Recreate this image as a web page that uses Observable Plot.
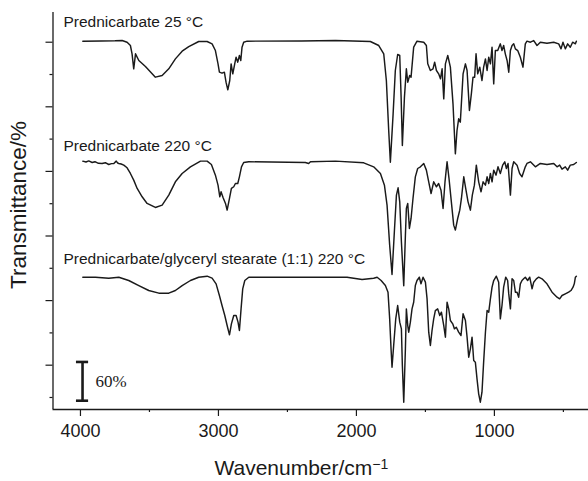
<!DOCTYPE html>
<html>
<head>
<meta charset="utf-8">
<script src="https://cdn.jsdelivr.net/npm/d3@7"></script>
<script src="https://cdn.jsdelivr.net/npm/@observablehq/plot@0.6"></script>
<style>
  html, body { margin: 0; padding: 0; background: #fff; }
  #chart { width: 588px; height: 481px; }
</style>
</head>
<body>
<div id="chart"></div>
<script>
// Wavenumber (cm^-1) and stacked transmittance (%)
const spec25 = [
  [3983,551.6],[3850,552.0],[3750,552.2],[3698,552.6],[3662,550.0],[3638,544.9],[3626,532.0],[3614,508.8],[3601,532.0],
  [3577,521.7],[3529,512.4],[3457,495.9],[3408,498.4],[3360,508.8],[3312,524.2],[3263,536.1],
  [3215,543.3],[3143,551.1],[3082,551.1],[3046,547.5],[3022,537.1],[3003,516.5],[2993,503.6],
  [2974,502.1],[2957,503.6],[2945,488.1],[2932,476.3],[2918,490.7],[2908,516.5],[2896,501.0],
  [2882,516.5],[2872,526.8],[2860,519.1],[2848,529.4],[2838,521.7],[2829,542.3],[2817,550.0],
  [2792,551.6],[2400,552.0],[2152,552.6],[1899,551.1],[1838,544.9],[1802,532.0],[1783,490.7],
  [1766,413.3],[1754,364.3],[1734,439.1],[1718,506.2],[1701,531.0],[1686,529.4],[1676,464.9],
  [1667,390.1],[1652,464.9],[1638,508.8],[1628,488.1],[1614,498.4],[1604,495.9],[1585,542.3],
  [1561,551.6],[1512,550.0],[1493,544.9],[1483,516.5],[1464,506.2],[1445,508.8],[1433,519.1],
  [1420,506.2],[1404,501.0],[1391,493.3],[1379,508.8],[1367,462.3],[1355,516.5],[1338,529.4],
  [1319,511.4],[1300,454.6],[1283,377.2],[1271,413.3],[1259,431.4],[1247,426.2],[1227,501.0],
  [1210,516.5],[1198,506.2],[1181,444.3],[1167,470.1],[1155,495.9],[1143,495.9],[1133,532.0],
  [1121,501.0],[1106,511.4],[1090,490.7],[1078,511.4],[1065,524.2],[1053,506.2],[1041,526.8],
  [1029,516.5],[1017,542.3],[1005,485.5],[993,537.1],[976,537.1],[957,547.5],[945,537.1],
  [933,544.9],[921,532.0],[908,521.7],[896,503.6],[884,537.1],[872,544.9],[860,547.5],
  [848,539.7],[831,537.1],[812,526.8],[793,511.4],[776,547.5],[764,551.6],[739,550.0],
  [715,552.6],[691,544.9],[667,550.0],[619,548.5],[570,550.0],[534,547.5],[517,539.7],
  [503,550.0],[486,539.7],[469,547.5],[450,542.3],[433,550.0],[413,547.5],[406,551.6]
];

const spec220 = [
  [3983,365.9],[3960,364.5],[3940,366.2],[3915,363.8],[3895,365.0],[3870,362.5],[3843,362.3],
  [3820,363.5],[3795,360.7],[3775,362.0],[3758,362.3],[3741,365.9],[3730,363.0],[3722,362.3],
  [3705,361.5],[3686,359.7],[3662,355.6],[3638,346.8],[3614,336.5],[3589,323.6],[3553,310.7],
  [3517,300.4],[3457,294.2],[3408,297.8],[3360,313.3],[3312,333.9],[3263,346.8],[3203,357.1],
  [3130,365.9],[3082,365.9],[3051,360.7],[3022,344.2],[3003,328.7],[2990,310.7],[2981,318.4],
  [2966,309.1],[2949,300.4],[2937,290.0],[2920,308.1],[2906,323.6],[2889,326.2],[2877,331.3],
  [2860,331.3],[2848,341.6],[2833,357.1],[2817,363.8],[2780,364.9],[2370,363.8],[2346,362.3],
  [2333,364.9],[2152,365.9],[1947,363.3],[1875,357.1],[1826,346.8],[1797,328.7],[1778,297.8],
  [1759,235.9],[1742,190.5],[1725,256.5],[1710,313.3],[1698,324.6],[1686,302.9],[1674,241.0],
  [1657,172.9],[1645,251.3],[1638,292.6],[1628,300.4],[1616,261.7],[1604,277.1],[1590,308.1],
  [1573,341.6],[1556,354.5],[1536,357.1],[1512,362.3],[1493,352.0],[1476,333.9],[1459,315.8],
  [1440,333.9],[1420,326.2],[1404,331.3],[1387,321.0],[1372,292.6],[1358,333.9],[1343,364.9],
  [1329,339.1],[1312,302.9],[1295,266.8],[1283,259.1],[1266,277.1],[1251,290.0],[1239,308.1],
  [1222,341.6],[1208,323.6],[1191,302.9],[1174,290.0],[1160,313.3],[1145,328.7],[1131,359.7],
  [1114,333.9],[1097,318.4],[1082,333.9],[1065,328.7],[1053,341.6],[1041,331.3],[1029,346.8],
  [1017,333.9],[1005,352.0],[988,344.2],[974,357.1],[957,346.8],[940,359.7],[925,364.9],
  [913,354.5],[901,362.3],[884,313.3],[872,354.5],[860,364.9],[836,359.7],[817,346.8],
  [800,341.6],[788,349.4],[776,357.1],[764,362.3],[739,364.9],[703,357.1],[667,362.3],
  [619,360.7],[570,362.3],[546,357.1],[527,359.7],[510,353.5],[486,357.1],[469,352.0],
  [450,359.7],[425,360.7],[406,363.8]
];

const specMix = [
  [3983,186.2],[3891,186.2],[3795,184.7],[3722,186.2],[3650,181.1],[3577,173.3],[3505,165.6],
  [3432,161.5],[3360,161.5],[3312,165.6],[3263,173.3],[3203,181.1],[3143,186.2],[3082,187.8],
  [3046,184.7],[3017,175.9],[2993,157.9],[2974,142.4],[2954,126.9],[2937,111.4],[2920,97.0],
  [2906,114.0],[2889,126.9],[2872,126.9],[2858,116.6],[2848,103.7],[2836,137.2],[2824,168.2],
  [2809,181.1],[2780,186.2],[2684,186.2],[2152,186.2],[2068,186.2],[1959,182.6],[1875,184.7],
  [1850,186.2],[1821,181.1],[1790,173.3],[1771,163.0],[1759,121.7],[1749,75.3],[1742,46.9],
  [1730,80.5],[1715,121.7],[1701,142.4],[1686,116.6],[1674,106.3],[1667,49.5],[1657,-7.3],
  [1645,75.3],[1638,137.2],[1628,111.4],[1621,101.1],[1609,116.6],[1597,137.2],[1585,147.5],
  [1573,173.3],[1561,181.1],[1544,186.2],[1532,175.9],[1517,186.2],[1500,178.5],[1488,152.7],
  [1476,101.1],[1464,80.5],[1452,103.7],[1440,121.7],[1428,134.6],[1411,137.2],[1396,126.9],
  [1384,132.1],[1367,111.4],[1355,93.4],[1343,147.5],[1331,137.2],[1319,119.2],[1302,114.0],
  [1290,106.3],[1276,108.8],[1259,101.1],[1242,95.9],[1227,129.5],[1210,119.2],[1198,93.4],
  [1186,62.4],[1174,75.3],[1162,93.4],[1150,57.2],[1138,54.7],[1126,28.9],[1114,5.7],
  [1102,-7.3],[1090,8.2],[1078,54.7],[1065,101.1],[1053,134.6],[1041,132.1],[1029,152.7],
  [1017,170.8],[1005,181.1],[986,187.8],[969,178.5],[957,121.7],[945,142.4],[933,170.8],
  [918,186.2],[904,181.1],[896,160.4],[884,137.2],[872,183.7],[860,181.1],[848,163.0],
  [836,163.0],[824,155.3],[812,175.9],[800,181.1],[788,183.7],[776,186.2],[759,181.1],
  [744,186.2],[727,168.2],[715,178.5],[696,183.7],[679,186.2],[655,183.7],[619,175.9],
  [582,163.0],[546,155.3],[527,152.7],[510,157.9],[486,160.4],[462,163.0],[445,165.6],
  [430,170.8],[421,175.9],[413,186.2],[406,187.8]
];

const traceNames = ["Prednicarbate 25 °C", "Prednicarbate 220 °C", "Prednicarbate/glyceryl stearate (1:1) 220 °C"];
const labelY = [580.5, 390, 214.5];
const xMajor = [4000, 3000, 2000, 1000];
const xMinor = [3500, 2500, 1500, 500];
const yMajor = [50, 150, 250, 350, 450, 550];
const yMinor = [0, 100, 200, 300, 400, 500];
const scaleBar = {wn: 3985, from: -5, to: 55, label: "60%"};
const xTitle = "Wavenumber/cm";
const yTitle = "Transmittance/%";

const toRows = (arr) => arr.map(([wn, t]) => ({wn, t}));
const ink = "#1a1a1a";
const xDomain = [4199, 318];
const yDomain = [-18.6, 596];

const chart = Plot.plot({
  width: 588,
  height: 481,
  marginTop: 12,
  marginBottom: 72,
  marginLeft: 52.5,
  marginRight: 0,
  style: {fontFamily: "'Liberation Sans', Arial, sans-serif", fontSize: "18px", color: ink, background: "#fff", overflow: "visible"},
  x: {domain: xDomain},
  y: {domain: yDomain},
  marks: [
    Plot.axisX({ticks: xMajor, tickSize: 7, tickPadding: 8, tickFormat: d => String(d), label: null, strokeWidth: 1.2, stroke: ink, fill: ink, fontSize: 18}),
    Plot.axisX({ticks: xMinor, tickSize: 3, tickFormat: () => "", label: null, strokeWidth: 1.2, stroke: ink}),
    Plot.axisY({ticks: yMajor, tickSize: 7, tickFormat: () => "", label: null, strokeWidth: 1.2, stroke: ink}),
    Plot.axisY({ticks: yMinor, tickSize: 3, tickFormat: () => "", label: null, strokeWidth: 1.2, stroke: ink}),
    Plot.ruleX([xDomain[0]], {stroke: ink, strokeWidth: 1.3}),
    Plot.ruleY([yDomain[0]], {stroke: ink, strokeWidth: 1.3}),
    Plot.line(toRows(spec25), {x: "wn", y: "t", stroke: ink, strokeWidth: 1.45}),
    Plot.line(toRows(spec220), {x: "wn", y: "t", stroke: ink, strokeWidth: 1.45}),
    Plot.line(toRows(specMix), {x: "wn", y: "t", stroke: ink, strokeWidth: 1.45}),
    Plot.text(traceNames.map((name, i) => ({name, y: labelY[i]})), {
      x: 4123, y: "y", text: "name", textAnchor: "start", fontSize: 15.5, fill: ink
    }),
    Plot.ruleX([scaleBar], {x: "wn", y1: "from", y2: "to", stroke: ink, strokeWidth: 2.6}),
    Plot.ruleY([scaleBar.from, scaleBar.to], {y: d => d, x1: scaleBar.wn + 44, x2: scaleBar.wn - 44, stroke: ink, strokeWidth: 2.6}),
    Plot.text([scaleBar], {x: "wn", y: d => (d.from + d.to) / 2, text: "label", dx: 13, textAnchor: "start",
      fontFamily: "'Liberation Serif', 'DejaVu Serif', serif", fontSize: 17, fill: ink}),
    Plot.text([xTitle], {x: 2399, y: -110, fontSize: 21, fill: ink}),
    Plot.text([yTitle], {x: 4449, y: 298, rotate: -90, fontSize: 22.5, fill: ink})
  ]
});

document.getElementById("chart").appendChild(chart);

// superscript "−1" on the x-axis title
d3.select(chart).selectAll("text").each(function () {
  if (this.textContent === xTitle) {
    d3.select(this).append("tspan").attr("dy", "-0.45em").attr("font-size", "14px").text("−1");
  }
});
</script>
</body>
</html>
